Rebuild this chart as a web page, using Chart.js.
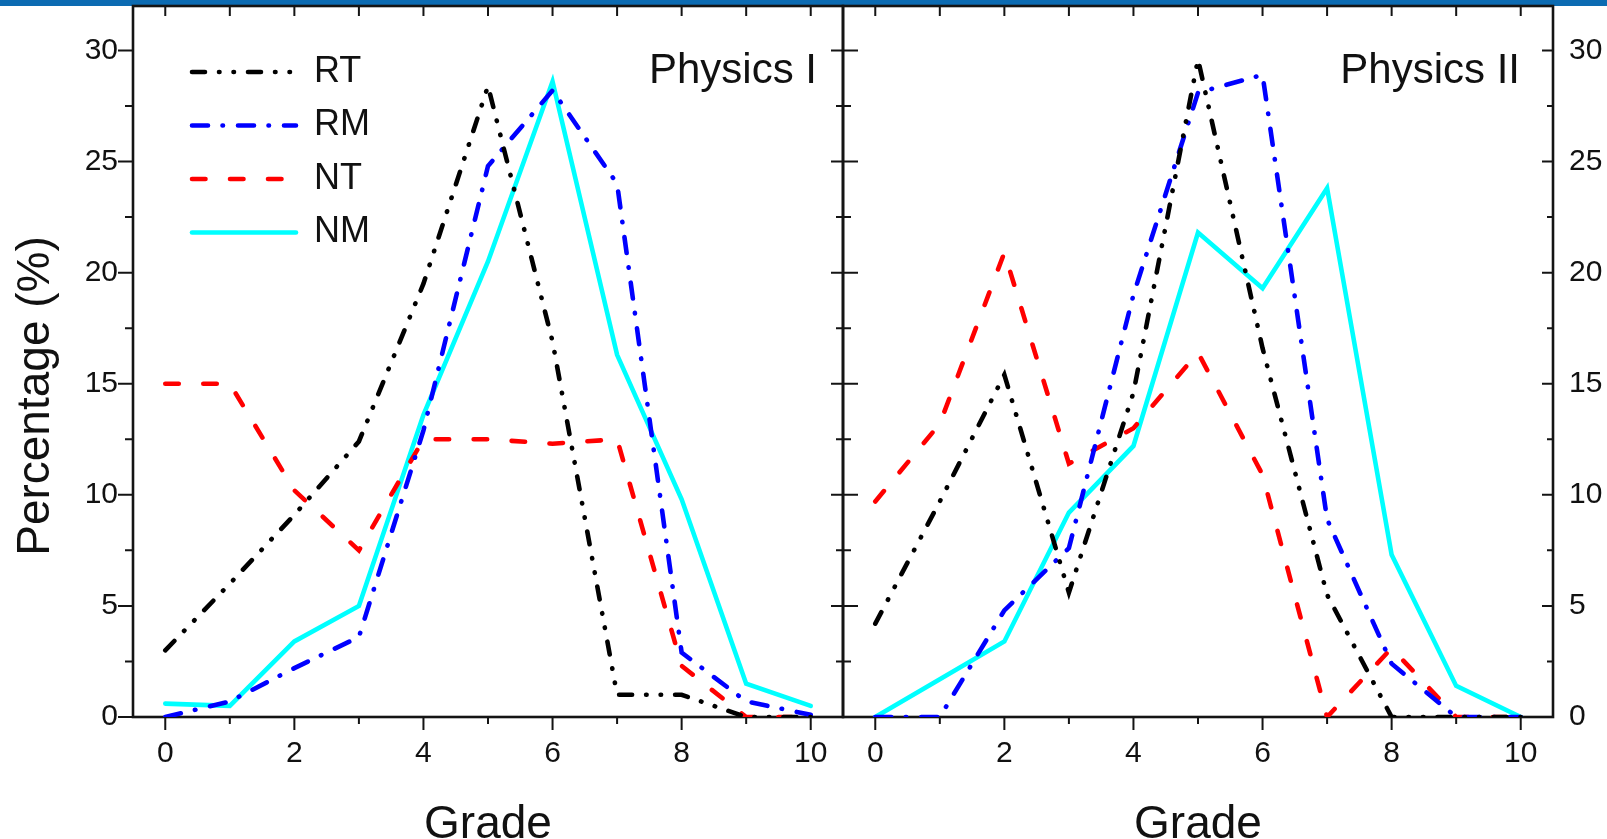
<!DOCTYPE html>
<html>
<head>
<meta charset="utf-8">
<title>Grade distribution - Physics I / Physics II</title>
<script src="https://cdn.jsdelivr.net/npm/chart.js@4.4.1/dist/chart.umd.min.js"></script>
<style>
  html, body { margin: 0; padding: 0; background: #fff; }
  #wrap { position: relative; width: 1607px; height: 839px; overflow: hidden; }
  #wrap canvas { position: absolute; left: 0; top: 0; }
</style>
</head>
<body>
<div id="wrap">
  <canvas id="physics1" width="1607" height="839"></canvas>
  <canvas id="physics2" width="1607" height="839"></canvas>
</div>
<script>
// x values (grade) and axis ticks
const grades = [0, 1, 2, 3, 4, 5, 6, 7, 8, 9, 10];
const xTicks = [0, 2, 4, 6, 8, 10];
const yTicks = [0, 5, 10, 15, 20, 25, 30];
const yMinorTicks = [2.5, 7.5, 12.5, 17.5, 22.5, 27.5];

// Physics I (percentage per grade)
const p1RT = [3.0, 6.0, 9.1, 12.4, 19.5, 28.4, 16.9, 1.0, 1.0, 0, 0];
const p1RM = [0, 0.7, 2.2, 3.6, 12.9, 24.8, 28.2, 24.0, 2.9, 0.7, 0.1];
const p1NT = [15.0, 15.0, 10.2, 7.5, 12.5, 12.5, 12.3, 12.5, 2.3, 0, 0];
const p1NM = [0.6, 0.5, 3.4, 5.0, 13.6, 20.5, 28.6, 16.3, 9.8, 1.5, 0.5];

// Physics II
const p2RT = [4.2, 9.7, 15.4, 5.6, 14.6, 29.6, 16.6, 5.5, 0, 0, 0];
const p2RM = [0, 0, 4.8, 7.6, 19.0, 28.1, 28.9, 8.9, 2.4, 0, 0];
const p2NT = [9.7, 13.2, 20.9, 11.4, 13.0, 16.4, 10.9, 0, 3.1, 0, 0];
const p2NM = [0, 1.7, 3.4, 9.2, 12.2, 21.8, 19.3, 23.8, 7.3, 1.4, 0];

const FONT = '"Liberation Sans", Arial, Helvetica, sans-serif';
const INK = '#111';

const seriesStyle = {
  RT: { color: '#000000', dash: [13, 14, 0.5, 14, 0.5, 14] },
  RM: { color: '#0000ff', dash: [16, 14.5, 0.5, 15] },
  NT: { color: '#ff0000', dash: [13.5, 24.5] },
  NM: { color: '#00ffff', dash: [] }
};

function makeSets(rt, rm, nt, nm) {
  const series = { RT: rt, RM: rm, NT: nt, NM: nm };
  return Object.keys(series).map(name => ({
    label: name,
    data: grades.map((g, i) => ({ x: g, y: series[name][i] })),
    borderColor: seriesStyle[name].color,
    backgroundColor: seriesStyle[name].color,
    borderDash: seriesStyle[name].dash,
    borderCapStyle: 'round',
    borderWidth: 4.6,
    pointRadius: 0,
    tension: 0,
    fill: false
  }));
}

// frame box + minor/major tick marks, positions taken from the scales
const axisFrame = {
  id: 'axisFrame',
  beforeDatasetsDraw(chart, args, o) {
    const { ctx, chartArea: a, scales: { x, y } } = chart;
    ctx.save();
    ctx.strokeStyle = '#141414';
    ctx.lineWidth = 2.6;
    ctx.strokeRect(a.left, a.top, a.right - a.left, a.bottom - a.top);
    ctx.lineWidth = 2;
    ctx.beginPath();
    grades.forEach(g => {
      const px = x.getPixelForValue(g);
      const major = xTicks.includes(g);
      ctx.moveTo(px, a.bottom);
      ctx.lineTo(px, a.bottom + (major ? 13 : 7));
      ctx.moveTo(px, a.top);
      ctx.lineTo(px, a.top + 10);
    });
    yTicks.concat(yMinorTicks).forEach(v => {
      const py = y.getPixelForValue(v);
      const k = yTicks.includes(v) ? 0 : 1;
      ctx.moveTo(a.left - o.leftOut[k], py);
      ctx.lineTo(a.left + o.leftIn[k], py);
      ctx.moveTo(a.right - o.rightIn[k], py);
      ctx.lineTo(a.right + o.rightOut[k], py);
    });
    ctx.stroke();
    ctx.restore();
  }
};

// panel name, y title and the blue band at the top
const panelText = {
  id: 'panelText',
  beforeDraw(chart, args, o) {
    if (!o.band) return;
    const { ctx } = chart;
    ctx.save();
    ctx.fillStyle = '#0c6bb2';
    ctx.fillRect(0, 0, chart.width, 6);
    ctx.restore();
  },
  afterDraw(chart, args, o) {
    const { ctx, chartArea: a } = chart;
    ctx.save();
    ctx.fillStyle = INK;
    ctx.font = '42px ' + FONT;
    ctx.textAlign = 'right';
    ctx.textBaseline = 'middle';
    ctx.fillText(o.label, a.right - o.inset, 71);
    if (o.yTitle) {
      ctx.translate(36, 396);
      ctx.rotate(-Math.PI / 2);
      ctx.textAlign = 'center';
      ctx.font = '46px ' + FONT;
      ctx.fillText(o.yTitle, 0, 0);
    }
    ctx.restore();
  }
};

// move the in-plot legend to its spot in the upper left
const legendSpot = {
  id: 'legendSpot',
  afterLayout(chart, args, o) {
    if (chart.legend && o.left != null) {
      chart.legend.left = o.left;
      chart.legend.top = o.top;
    }
  }
};

function makeChart(id, sets, side) {
  const left = side === 'left';
  return new Chart(document.getElementById(id), {
    type: 'line',
    data: { datasets: sets },
    plugins: [axisFrame, panelText, legendSpot],
    options: {
      responsive: false,
      animation: false,
      events: [],
      layout: { padding: left ? { left: 0, right: 764, top: 6, bottom: 0 } : { left: 843, right: 0, top: 6, bottom: 0 } },
      scales: {
        x: {
          type: 'linear',
          min: -0.5,
          max: 10.5,
          afterBuildTicks: s => { s.ticks = xTicks.map(v => ({ value: v })); },
          afterFit: s => { s.height = 122; s.paddingLeft = 0; s.paddingRight = 0; },
          grid: { display: false, drawTicks: false },
          border: { display: false },
          ticks: { color: INK, font: { size: 30, family: FONT }, padding: 19, maxRotation: 0 },
          title: { display: true, text: 'Grade', color: INK, font: { size: 46, family: FONT, lineHeight: 1 }, padding: { top: 0, bottom: -9 } }
        },
        y: {
          type: 'linear',
          position: left ? 'left' : 'right',
          min: 0,
          max: 32,
          afterBuildTicks: s => { s.ticks = yTicks.map(v => ({ value: v })); },
          afterFit: s => { s.width = left ? 133 : 54; s.paddingTop = 0; s.paddingBottom = 0; },
          grid: { display: false, drawTicks: false },
          border: { display: false },
          ticks: { color: INK, font: { size: 30, family: FONT }, padding: left ? 15 : 16 }
        }
      },
      plugins: {
        tooltip: { enabled: false },
        legend: {
          display: left,
          position: 'chartArea',
          align: 'start',
          onClick: null,
          labels: {
            usePointStyle: true,
            pointStyle: 'line',
            pointStyleWidth: 104,
            color: INK,
            font: { size: 36, family: FONT },
            padding: 17.5,
            generateLabels: chart => chart.data.datasets.map((ds, i) => ({
              text: ds.label,
              datasetIndex: i,
              hidden: false,
              fillStyle: ds.borderColor,
              strokeStyle: ds.borderColor,
              lineWidth: ds.borderWidth,
              lineDash: ds.borderDash,
              lineCap: ds.borderCapStyle,
              pointStyle: 'line',
              fontColor: INK
            }))
          }
        },
        legendSpot: left ? { left: 174.5, top: 36.5 } : {},
        axisFrame: left
          ? { leftOut: [15, 8], leftIn: [0, 0], rightIn: [12, 7], rightOut: [0, 0] }
          : { leftOut: [0, 0], leftIn: [15, 8], rightIn: [11, 6], rightOut: [0, 0] },
        panelText: left
          ? { label: 'Physics I', inset: 26, yTitle: 'Percentage (%)', band: true }
          : { label: 'Physics II', inset: 33 }
      }
    }
  });
}

makeChart('physics1', makeSets(p1RT, p1RM, p1NT, p1NM), 'left');
makeChart('physics2', makeSets(p2RT, p2RM, p2NT, p2NM), 'right');
</script>
</body>
</html>
